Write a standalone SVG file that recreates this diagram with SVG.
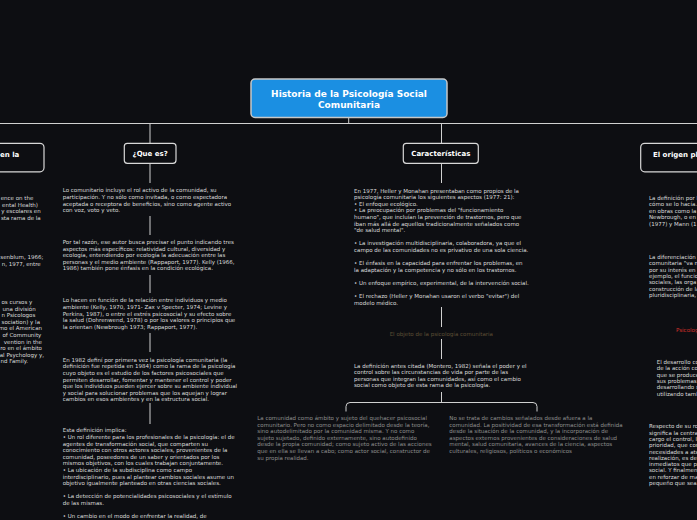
<svg xmlns="http://www.w3.org/2000/svg" width="697" height="520" viewBox="0 0 697 520">
<style>
.bg{fill:#0d0e12}
.ln{stroke:#d0d0d0;stroke-width:1;fill:none}
.box{fill:#0d0e12;stroke:#d8d8d8;stroke-width:1.2}
.ttl{font-family:"DejaVu Sans",sans-serif;font-weight:bold;font-size:7px;fill:#ffffff}
.t{font-family:"DejaVu Sans",sans-serif;font-size:5.5px;fill:#dcdcdc}
.d{font-family:"DejaVu Sans",sans-serif;font-size:5.5px;fill:#8e8e8e}
.lab{font-family:"DejaVu Sans",sans-serif;font-size:5.5px;fill:#5e4f36}
.red{font-family:"DejaVu Sans",sans-serif;font-size:5.5px;fill:#d0302a}
</style>
<rect class="bg" x="0" y="0" width="697" height="520"/>

<g id="connectors">
<path class="ln" d="M348.7 117.5V123.5M0 123.5H697M150 123.5V143M441.5 123.5V143"/>
<path class="ln" d="M150 163.5V183M150 216V235M150 275V293M150 333V352M150 403V424"/>
<path class="ln" d="M441.5 163.5V183M441.5 307V327M441.5 339V359M441.5 392V402.5"/>
<path class="ln" d="M346 411.5V406.5Q346 402.5 350 402.5H533Q537 402.5 537 406.5V411.5"/>
</g>

<g id="root">
<rect x="251" y="79" width="196" height="38.5" rx="4" fill="#1b8fe2" stroke="#c8c8c8" stroke-width="1.5"/>
<text class="ttl" font-size="9" style="font-size:9px" text-anchor="middle"><tspan x="349" y="96.5">Historia de la Psicología Social</tspan><tspan x="349" y="107.5">Comunitaria</tspan></text>
</g>

<g id="node-left">
<rect class="box" x="-30" y="143.3" width="74" height="28.5" rx="4"/>
<text class="ttl" x="0" y="157">en la</text>
</g>

<g id="node-que-es">
<rect class="box" x="124.3" y="143.3" width="51.7" height="20" rx="3"/>
<text class="ttl" x="150.2" y="156" text-anchor="middle">¿Que es?</text>
</g>

<g id="node-caracteristicas">
<rect class="box" x="403.3" y="143.3" width="75" height="20" rx="3"/>
<text class="ttl" x="440.8" y="156" text-anchor="middle">Características</text>
</g>

<g id="node-right">
<rect class="box" x="640.7" y="143.3" width="80" height="28.5" rx="4"/>
<text class="ttl" x="653" y="157">El origen pl</text>
</g>

<g id="left-texts">
<text class="t" text-anchor="end"><tspan x="33.3" y="200">ence on the</tspan><tspan x="38" dy="6.6">ental Health)</tspan><tspan x="40.7" dy="6.6">y escolares en</tspan><tspan x="40.7" dy="6.6">sta rama de la</tspan></text>
<text class="t" text-anchor="end"><tspan x="43.3" y="259.3">senblum, 1966;</tspan><tspan x="40.7" dy="6.6">n, 1977, entre</tspan></text>
<text class="t" text-anchor="end"><tspan x="32.3" y="304">os cursos y</tspan><tspan x="35.7" dy="6.6">una división</tspan><tspan x="35.3" dy="6.6">n Psicologos</tspan><tspan x="40" dy="6.6">sociation) y la</tspan><tspan x="42" dy="6.6">mo el American</tspan><tspan x="41.3" dy="6.6">of Community</tspan><tspan x="42" dy="6.6">vention in the</tspan><tspan x="42" dy="6.6">ro en el ámbito</tspan><tspan x="44" dy="6.6">al Psychology y,</tspan><tspan x="28" dy="6.6">nd Family.</tspan></text>
</g>

<g id="q1">
<text class="t"><tspan x="62.7" y="192.4">Lo comunitario incluye el rol activo de la comunidad, su</tspan><tspan x="62.7" dy="6.6">participación. Y no sólo como invitada, o como espectadora</tspan><tspan x="62.7" dy="6.6">aceptada o receptora de beneficios, sino como agente activo</tspan><tspan x="62.7" dy="6.6">con voz, voto y veto.</tspan></text>
</g>
<g id="q2">
<text class="t"><tspan x="62.7" y="244">Por tal razón, ese autor busca precisar el punto indicando tres</tspan><tspan x="62.7" dy="6.6">aspectos más específicos: relatividad cultural, diversidad y</tspan><tspan x="62.7" dy="6.6">ecología, entendiendo por ecología la adecuación entre las</tspan><tspan x="62.7" dy="6.6">personas y el medio ambiente (Rappaport, 1977). Kelly (1966,</tspan><tspan x="62.7" dy="6.6">1986) también pone énfasis en la condición ecológica.</tspan></text>
</g>
<g id="q3">
<text class="t"><tspan x="62.7" y="302.3">Lo hacen en función de la relación entre individuos y medio</tspan><tspan x="62.7" dy="6.6">ambiente (Kelly, 1970, 1971- Zax v Specter, 1974; Levine y</tspan><tspan x="62.7" dy="6.6">Perkins, 1987), o entre el estrés psicosocial y su efecto sobre</tspan><tspan x="62.7" dy="6.6">la salud (Dohrenwend, 1978) o por los valores o principios que</tspan><tspan x="62.7" dy="6.6">la orientan (Newbrough 1973; Rappaport, 1977).</tspan></text>
</g>
<g id="q4">
<text class="t"><tspan x="62.7" y="361.7">En 1982 definí por primera vez la psicología comunitaria (la</tspan><tspan x="62.7" dy="6.6">definición fue repetida en 1984) como la rama de la psicología</tspan><tspan x="62.7" dy="6.6">cuyo objeto es el estudio de los factores psicosociales que</tspan><tspan x="62.7" dy="6.6">permiten desarrollar, fomentar y mantener el control y poder</tspan><tspan x="62.7" dy="6.6">que los individuos pueden ejercer sobre su ambiente individual</tspan><tspan x="62.7" dy="6.6">y social para solucionar problemas que los aquejan y lograr</tspan><tspan x="62.7" dy="6.6">cambios en esos ambientes y en la estructura social.</tspan></text>
</g>
<g id="q5">
<text class="t"><tspan x="62.7" y="432.3">Esta definición implica:</tspan><tspan x="62.7" dy="6.6">• Un rol diferente para los profesionales de la psicología: el de</tspan><tspan x="62.7" dy="6.6">agentes de transformación social, que comparten su</tspan><tspan x="62.7" dy="6.6">conocimiento con otros actores sociales, provenientes de la</tspan><tspan x="62.7" dy="6.6">comunidad, poseedores de un saber y orientados por los</tspan><tspan x="62.7" dy="6.6">mismos objetivos, con los cuales trabajan conjuntamente.</tspan><tspan x="62.7" dy="6.6">• La ubicación de la subdisciplina como campo</tspan><tspan x="62.7" dy="6.6">interdisciplinario, pues al plantear cambios sociales asume un</tspan><tspan x="62.7" dy="6.6">objetivo igualmente planteado en otras ciencias sociales.</tspan><tspan x="62.7" dy="13.2">• La detección de potencialidades psicosociales y el estímulo</tspan><tspan x="62.7" dy="6.6">de las mismas.</tspan><tspan x="62.7" dy="13.2">• Un cambio en el modo de enfrentar la realidad, de</tspan></text>
</g>

<g id="c1">
<text class="t"><tspan x="354" y="192.6">En 1977, Heller y Monahan presentaban como propios de la</tspan><tspan x="354" dy="6.6">psicología comunitaria los siguientes aspectos (1977: 21):</tspan><tspan x="354" dy="6.6">• El enfoque ecológico.</tspan><tspan x="354" dy="6.6">• La preocupación por problemas del "funcionamiento</tspan><tspan x="354" dy="6.6">humano", que incluían la prevención de trastornos, pero que</tspan><tspan x="354" dy="6.6">iban más allá de aquellos tradicionalmente señalados como</tspan><tspan x="354" dy="6.6">"de salud mental".</tspan><tspan x="354" dy="13.2">• La investigación multidisciplinaria, colaboradora, ya que el</tspan><tspan x="354" dy="6.6">campo de las comunidades no es privativo de una sola ciencia.</tspan><tspan x="354" dy="13.2">• El énfasis en la capacidad para enfrentar los problemas, en</tspan><tspan x="354" dy="6.6">la adaptación y la competencia y no sólo en los trastornos.</tspan><tspan x="354" dy="13.2">• Un enfoque empírico, experimental, de la intervención social.</tspan><tspan x="354" dy="13.2">• El rechazo (Heller y Monahan usaron el verbo "evitar") del</tspan><tspan x="354" dy="6.6">modelo médico.</tspan></text>
</g>
<g id="label-objeto">
<text class="lab" x="441.3" y="335.8" text-anchor="middle">El objeto de la psicología comunitaria</text>
</g>
<g id="c2">
<text class="t"><tspan x="354" y="367.6">La definición antes citada (Montero, 1982) señala el poder y el</tspan><tspan x="354" dy="6.6">control sobre las circunstancias de vida por parte de las</tspan><tspan x="354" dy="6.6">personas que integran las comunidades, así como el cambio</tspan><tspan x="354" dy="6.6">social como objeto de esta rama de la psicología.</tspan></text>
</g>
<g id="sub-left">
<text class="d"><tspan x="257.3" y="420">La comunidad como ámbito y sujeto del quehacer psicosocial</tspan><tspan x="257.3" dy="6.6">comunitario. Pero no como espacio delimitado desde la teoría,</tspan><tspan x="257.3" dy="6.6">sino autodelimitado por la comunidad misma. Y no como</tspan><tspan x="257.3" dy="6.6">sujeto sujetado, definido externamente, sino autodefinido</tspan><tspan x="257.3" dy="6.6">desde la propia comunidad; como sujeto activo de las acciones</tspan><tspan x="257.3" dy="6.6">que en ella se llevan a cabo; como actor social, constructor de</tspan><tspan x="257.3" dy="6.6">su propia realidad.</tspan></text>
</g>
<g id="sub-right">
<text class="d"><tspan x="449.3" y="420">No se trata de cambios señalados desde afuera a la</tspan><tspan x="449.3" dy="6.6">comunidad. La positividad de esa transformación está definida</tspan><tspan x="449.3" dy="6.6">desde la situación de la comunidad, y la incorporación de</tspan><tspan x="449.3" dy="6.6">aspectos externos provenientes de consideraciones de salud</tspan><tspan x="449.3" dy="6.6">mental, salud comunitaria, avances de la ciencia, aspectos</tspan><tspan x="449.3" dy="6.6">culturales, religiosos, políticos o económicos</tspan></text>
</g>

<g id="right-texts">
<text class="t"><tspan x="649" y="200">La definición por l</tspan><tspan x="649" dy="6.4">cómo se lo hacía.</tspan><tspan x="649" dy="6.4">en obras como la</tspan><tspan x="649" dy="6.4">Newbrough, o en l</tspan><tspan x="649" dy="6.4">(1977) y Mann (1</tspan></text>
<text class="t"><tspan x="649" y="259">La diferenciación</tspan><tspan x="649" dy="6.3">comunitaria "va m</tspan><tspan x="649" dy="6.3">por su interés en</tspan><tspan x="649" dy="6.3">ejemplo, el funcio</tspan><tspan x="649" dy="6.3">sociales, las orga</tspan><tspan x="649" dy="6.3">construcción de la</tspan><tspan x="649" dy="6.3">pluridisciplinaria,</tspan></text>
<text class="red" x="676" y="331.5">Psicolog</text>
<text class="t"><tspan x="656.7" y="364">El desarrollo co</tspan><tspan x="656.7" dy="6.3">de la acción co</tspan><tspan x="656.7" dy="6.3">que se produce</tspan><tspan x="656.7" dy="6.3">sus problemas</tspan><tspan x="656.7" dy="6.3">desarrollando s</tspan><tspan x="656.7" dy="6.3">utilizando tamb</tspan></text>
<text class="t"><tspan x="649" y="428.3">Respecto de su ro</tspan><tspan x="649" dy="6.3">significa la centra</tspan><tspan x="649" dy="6.3">cargo el control, l</tspan><tspan x="649" dy="6.3">prioridad, que con</tspan><tspan x="649" dy="6.3">necesidades a ate</tspan><tspan x="649" dy="6.3">realización, es de</tspan><tspan x="649" dy="6.3">inmediatos que p</tspan><tspan x="649" dy="6.3">social. Y finalmen</tspan><tspan x="649" dy="6.3">en reforzar de ma</tspan><tspan x="649" dy="6.3">pequeño que sea.</tspan></text>
</g>
</svg>
